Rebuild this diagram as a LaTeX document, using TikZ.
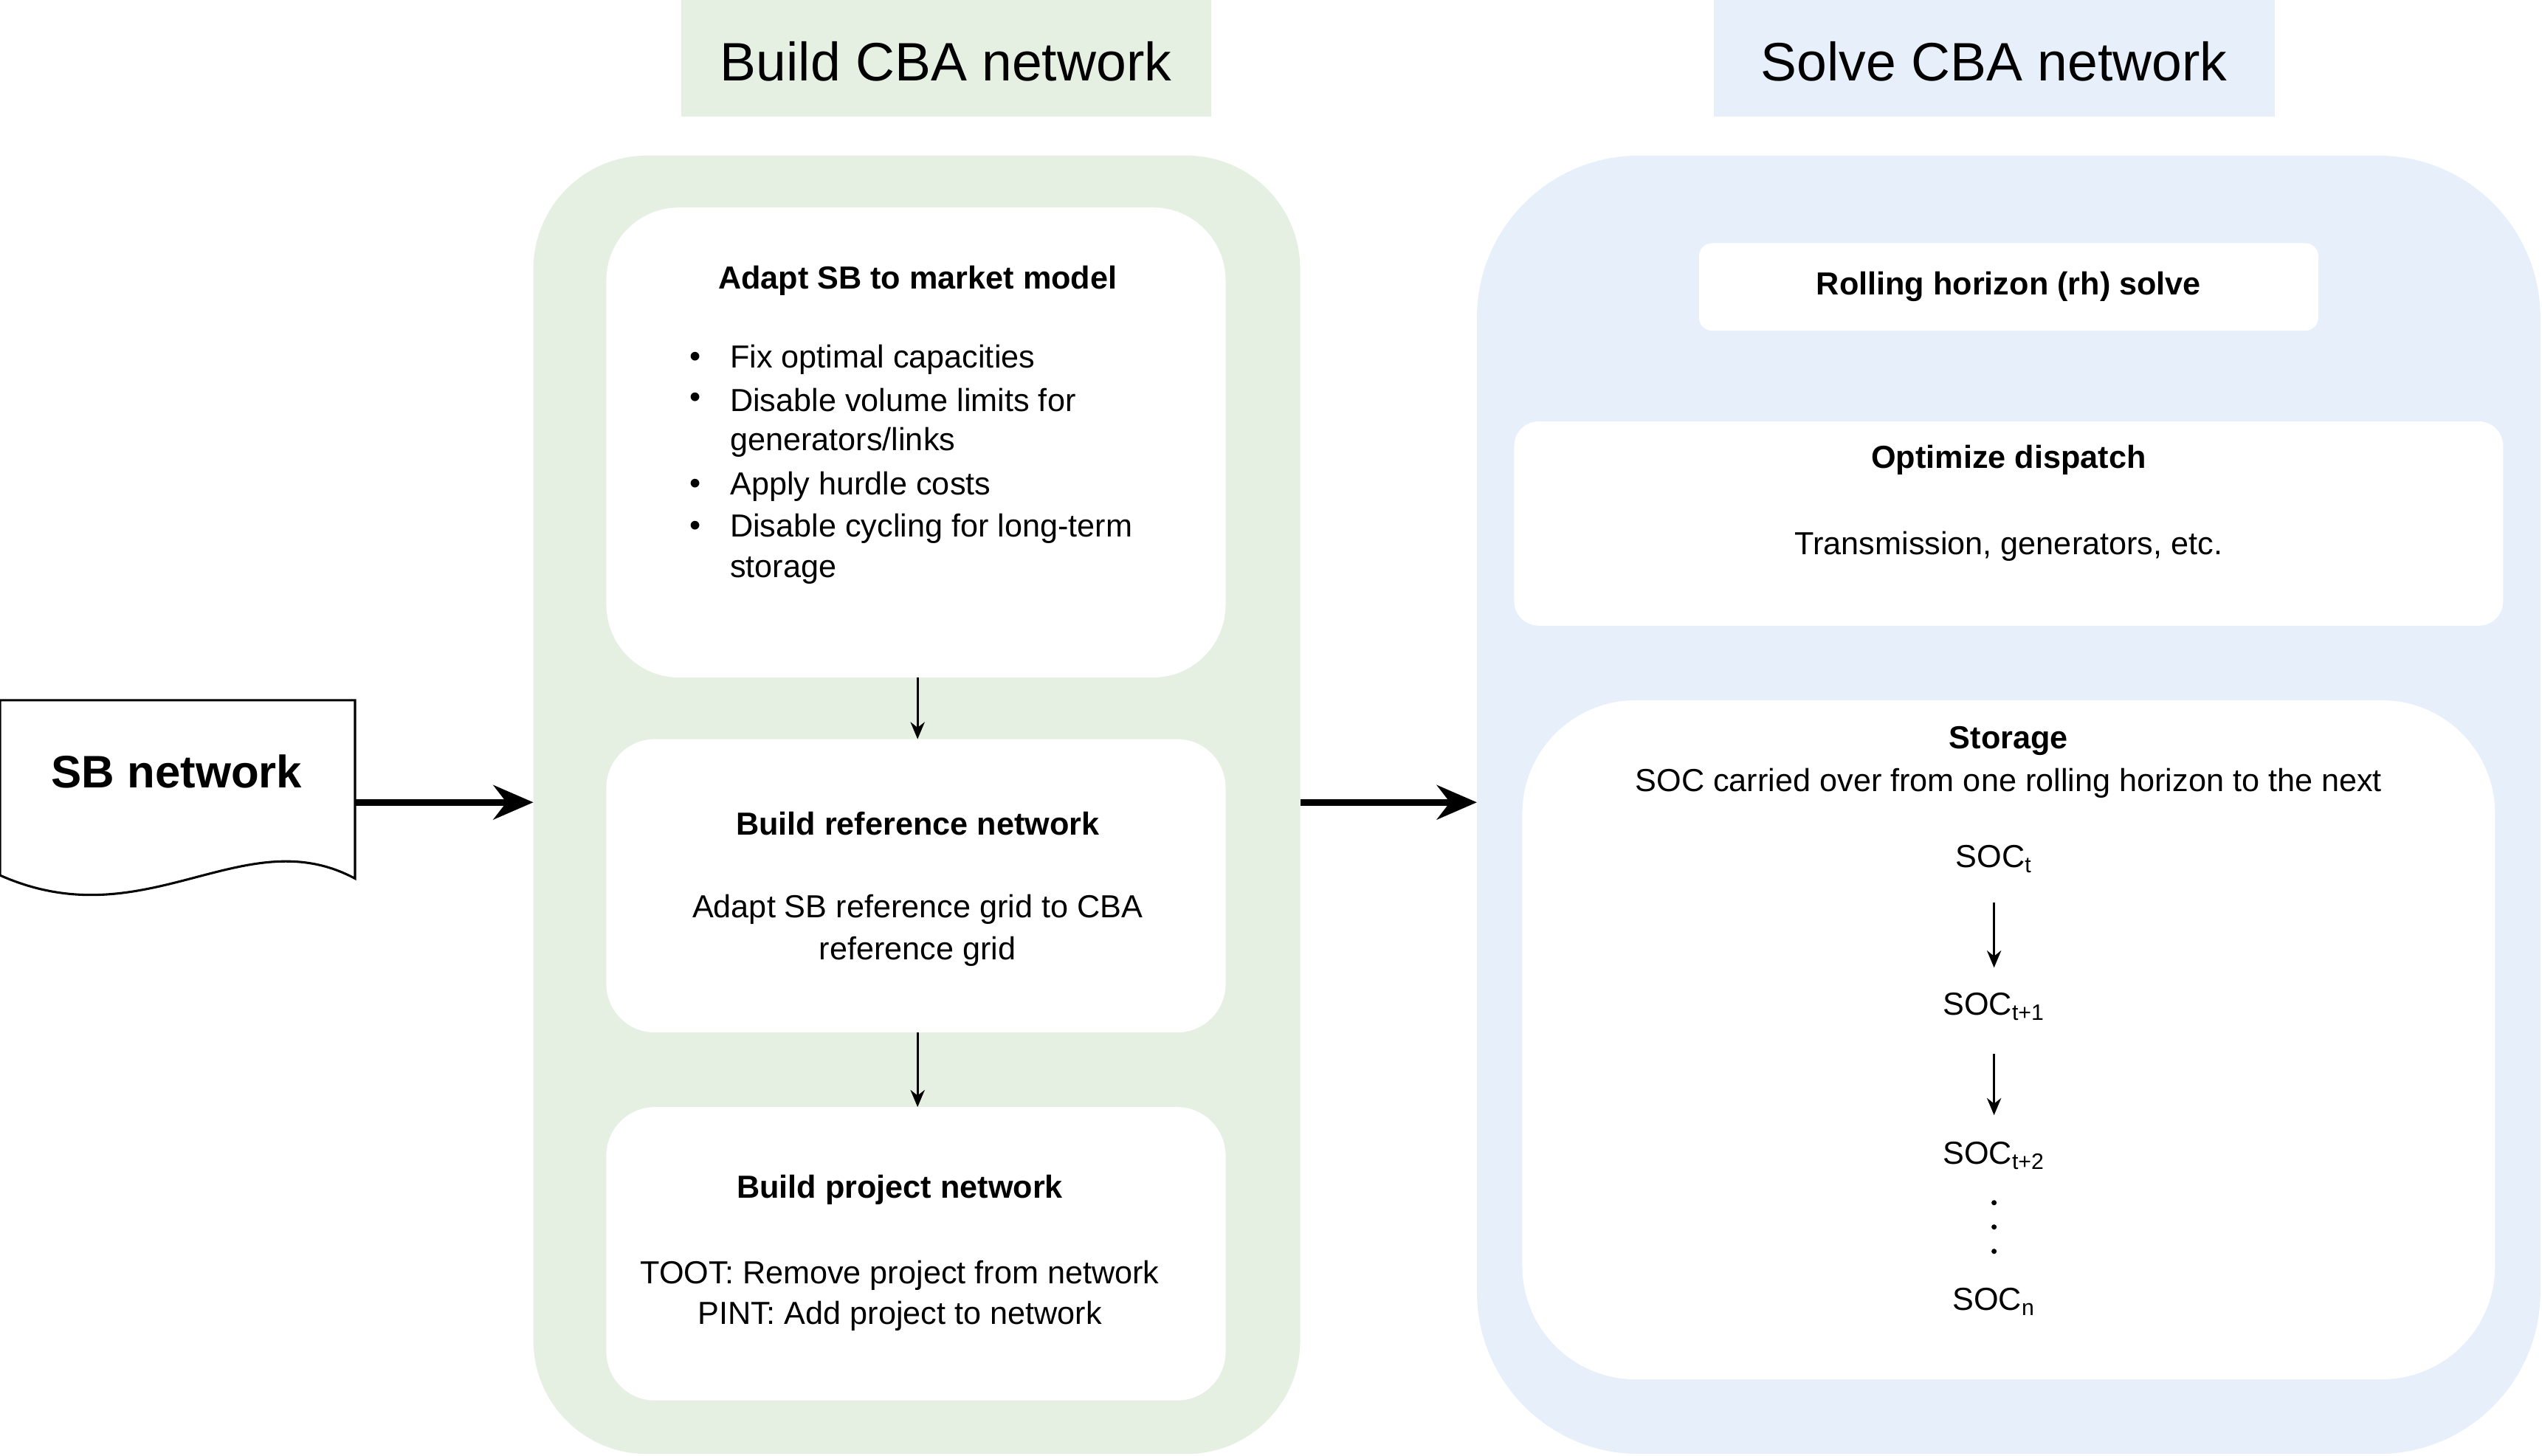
\documentclass[tikz,border=0pt]{standalone}
\usepackage{fontspec}
\usetikzlibrary{arrows.meta}
\setmainfont{Liberation Sans}
\begin{document}
\begin{tikzpicture}[x=0.02cm,y=-0.02cm,
  body/.style={font=\fontsize{11.2}{13.5}\selectfont,inner sep=0pt},
  ttl/.style={font=\fontsize{11.2}{13.5}\selectfont\bfseries,inner sep=0pt},
  big/.style={font=\fontsize{19}{22}\selectfont,inner sep=0pt},
  wbox/.style={fill=white,draw=none},
  thick arrow/.style={-{Stealth[length=14pt,width=12pt]},line width=2.4pt},
  thin arrow/.style={-{Stealth[length=6pt,width=5pt]},line width=0.8pt}]
\definecolor{gbg}{HTML}{E5F0E3}
\definecolor{bbg}{HTML}{E7EFFB}
\useasboundingbox (0,0) rectangle (1568,898);
% titles
\fill[gbg] (420,0) rectangle (747,72);
\node[big] (t1) at (583.5,38) {Build CBA network};
\fill[bbg] (1057,0) rectangle (1403,72);
\node[big] (t2) at (1230,38) {Solve CBA network};
% containers
\fill[gbg,rounded corners=70*0.02cm] (329,96) rectangle (802,897);
\coordinate (gl) at (329,495); \coordinate (gr) at (802,495);
\fill[bbg,rounded corners=100*0.02cm] (911,96) rectangle (1567,897);
\coordinate (bl) at (911,495);
% green boxes
\fill[wbox,rounded corners=45*0.02cm] (374,128) rectangle (756,418);
\fill[wbox,rounded corners=30*0.02cm] (374,456) rectangle (756,637);
\fill[wbox,rounded corners=30*0.02cm] (374,683) rectangle (756,864);
\coordinate (b1s) at (566,418); \coordinate (b2n) at (566,456);
\coordinate (b2s) at (566,637); \coordinate (b3n) at (566,683);
\node[ttl] (a1) at (566,173) {Adapt SB to market model};
\foreach \y/\t/\b in {222/Fix optimal capacities/1,247/Disable volume limits for/1,273/generators\slash links/0,300/Apply hurdle costs/1,326/Disable cycling for long-term/1,352/storage/0}{
  \node[body,anchor=west] at (450,\y) {\t};
  \ifnum\b=1 \node[body] at (429,\y) {•};\fi
}
\node[ttl] (a2) at (566,508) {Build reference network};
\node[body] (a2b) at (566,561) {Adapt SB reference grid to CBA};
\node[body] (a2c) at (566,587) {reference grid};
\node[ttl] (a3) at (555,734) {Build project network};
\node[body] (a3b) at (555,787) {TOOT: Remove project from network};
\node[body] (a3c) at (555,812) {PINT: Add project to network};
\draw[thin arrow] (b1s) -- (b2n);
\draw[thin arrow] (b2s) -- (b3n);
% blue boxes
\fill[wbox,rounded corners=8*0.02cm] (1048,150) rectangle (1430,204);
\node[ttl] (rh) at (1239,177) {Rolling horizon (rh) solve};
\fill[wbox,rounded corners=15*0.02cm] (934,260) rectangle (1544,386);
\node[ttl] (od) at (1239,284) {Optimize dispatch};
\node[body] (od2) at (1239,337) {Transmission, generators, etc.};
\fill[wbox,rounded corners=70*0.02cm] (939,432) rectangle (1539,851);
\node[ttl] (st) at (1239,457) {Storage};
\node[body] (st2) at (1239,483) {SOC carried over from one rolling horizon to the next};
\node[body] (s1) at (1230,530) {SOC\textsubscript{t}};
\node[body] (s2) at (1230,621) {SOC\textsubscript{t+1}};
\node[body] (s3) at (1230,713) {SOC\textsubscript{t+2}};
\node[body] (s4) at (1230,803) {SOC\textsubscript{n}};
\coordinate (s1b) at (1230,557); \coordinate (s2t) at (1230,597);
\coordinate (s2b) at (1230,650); \coordinate (s3t) at (1230,688);
\draw[thin arrow] (s1b) -- (s2t);
\draw[thin arrow] (s2b) -- (s3t);
\foreach \y in {742,757,772} \fill (1230,\y) circle (1.6);
% SB network document
\draw[line width=0.8pt,fill=white] (0,432) -- (219,432) -- (219,542) .. controls (150,505) and (90,580) .. (0,540) -- cycle;
\coordinate (sbr) at (219,495);
\node[font=\fontsize{16}{19}\selectfont\bfseries,inner sep=0pt] (sb) at (109,476) {SB network};
\draw[thick arrow] (sbr) -- (gl);
\draw[thick arrow] (gr) -- (bl);
\end{tikzpicture}
\end{document}
